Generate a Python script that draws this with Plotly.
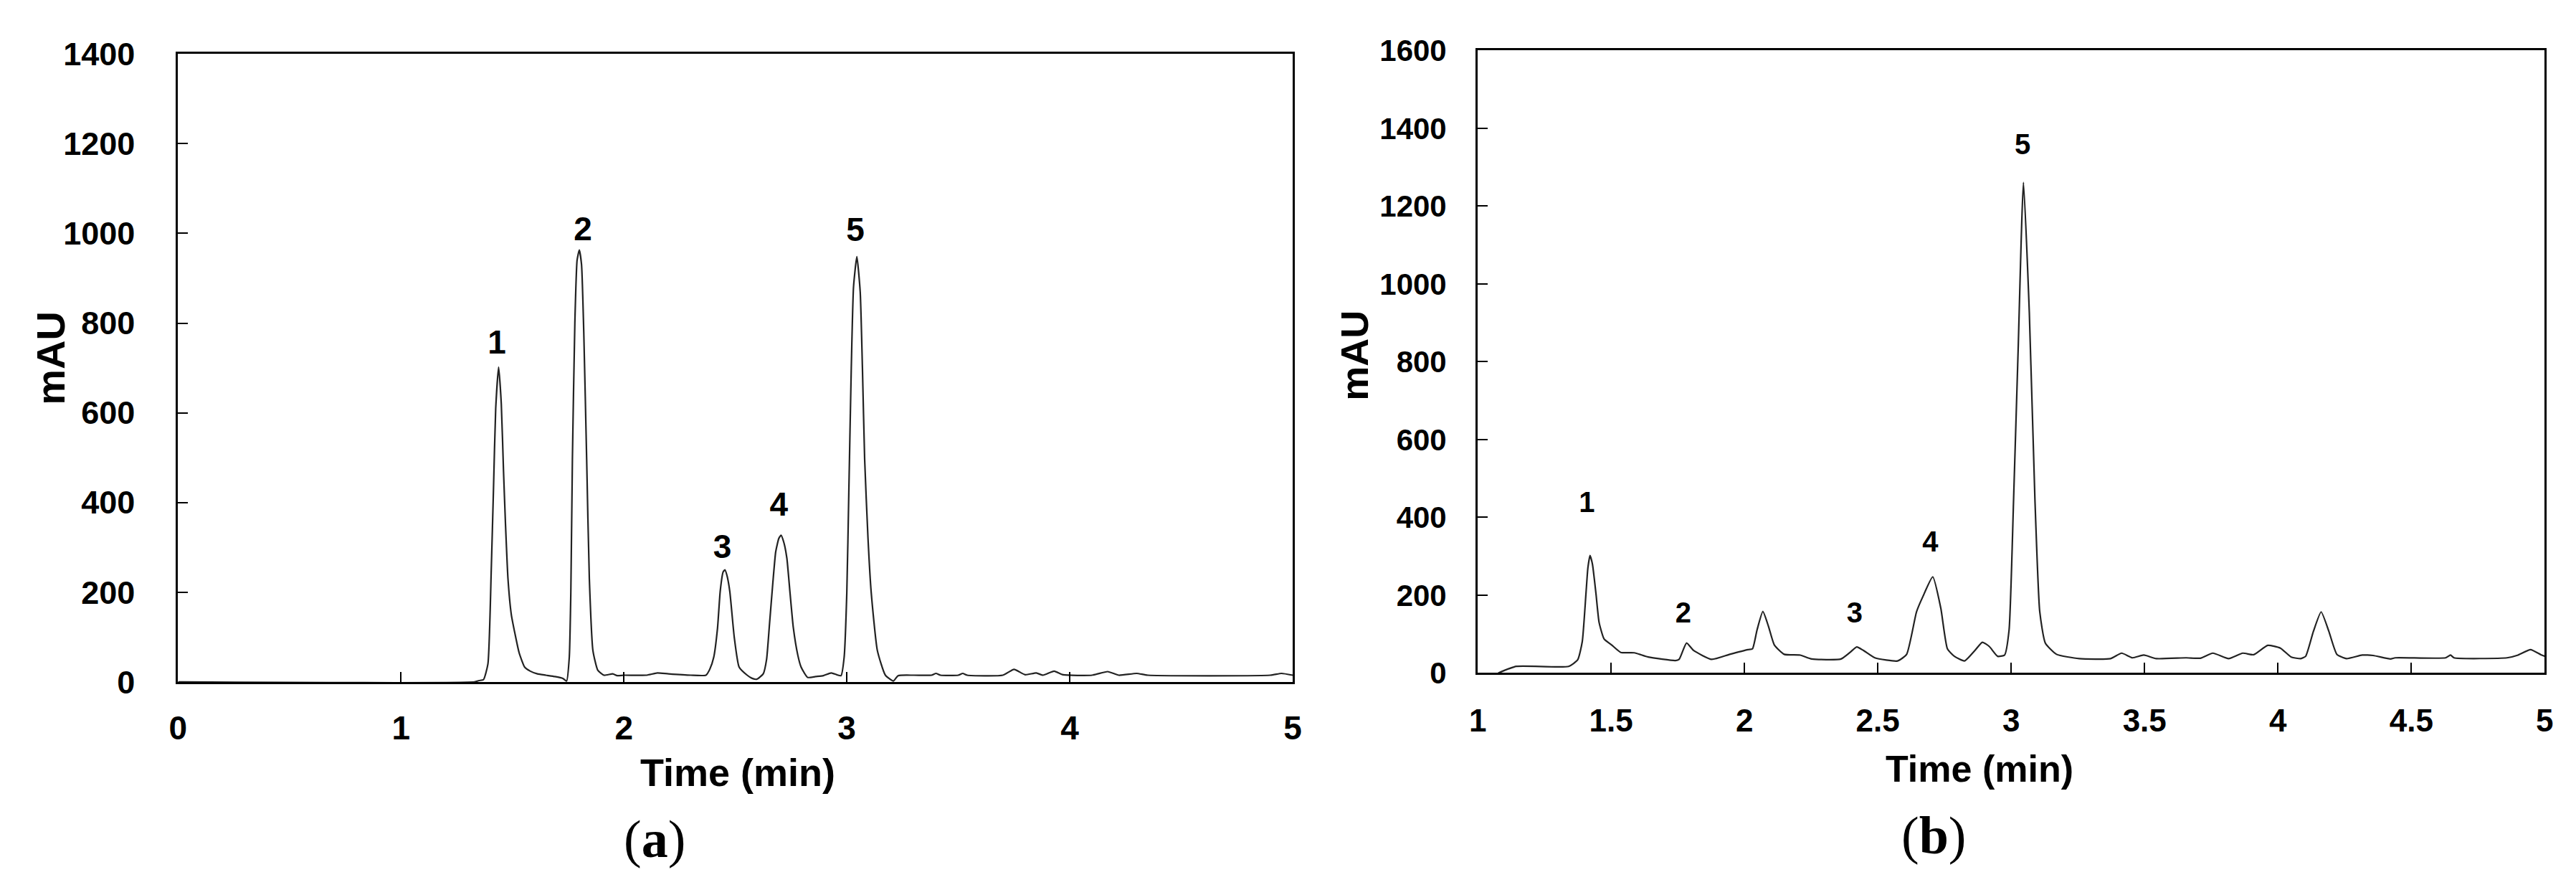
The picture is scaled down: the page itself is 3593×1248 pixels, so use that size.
import plotly.graph_objects as go

# ---------------- data: panel (a) ----------------
time_a = [0, 1.33, 1.35, 1.37, 1.39, 1.405, 1.415, 1.425, 1.438, 1.45, 1.46, 1.469, 1.48, 1.495,
          1.512, 1.53, 1.555, 1.58, 1.612, 1.65, 1.69, 1.726, 1.743, 1.755, 1.762, 1.769, 1.78,
          1.79, 1.80, 1.81, 1.82, 1.833, 1.845, 1.861, 1.883, 1.911, 1.95, 1.97, 2.0, 2.1, 2.15,
          2.2, 2.3, 2.368, 2.385, 2.403, 2.42, 2.432, 2.445, 2.453, 2.462, 2.475, 2.495, 2.517,
          2.553, 2.575, 2.596, 2.625, 2.64, 2.653, 2.668, 2.681, 2.695, 2.705, 2.718, 2.731,
          2.745, 2.76, 2.78, 2.795, 2.824, 2.86, 2.895, 2.93, 2.955, 2.974, 2.988, 3.0, 3.009,
          3.02, 3.03, 3.045, 3.06, 3.07, 3.08, 3.095, 3.109, 3.137, 3.173, 3.209, 3.23, 3.3,
          3.38, 3.4, 3.42, 3.5, 3.52, 3.54, 3.7, 3.75, 3.8, 3.85, 3.88, 3.93, 3.97, 4.1, 4.17,
          4.22, 4.3, 4.35, 4.9, 4.95, 5.0]
mau_a = [0, 0, 3, 5, 40, 250, 430, 610, 702, 620, 470, 350, 230, 150,
         106, 65, 33, 24, 18, 15, 12, 8, 2, 55, 200, 496, 800,
         940, 963, 930, 780, 496, 230, 70, 26, 15, 18, 14, 15, 15, 20,
         18, 15, 15, 28, 55, 120, 202, 245, 250, 238, 202, 100, 33,
         15, 8, 6, 18, 50, 128, 220, 290, 320, 327, 310, 276,
         200, 121, 60, 33, 10, 12, 14, 20, 16, 14, 55, 200, 423,
         700, 880, 948, 870, 700, 496, 320, 202, 70, 15, 2, 14, 15,
         15, 19, 15, 15, 19, 15, 15, 28, 16, 20, 15, 24, 16, 15, 23,
         15, 19, 15, 15, 19, 15]
peak_labels_a = ["1", "2", "3", "4", "5"]
peak_label_time_a = [1.430, 1.816, 2.442, 2.695, 3.038]
peak_label_mau_a = [750, 1003, 294, 389, 1002]

# ---------------- data: panel (b) ----------------
time_b = [1.077, 1.145, 1.341, 1.375, 1.392, 1.406, 1.413, 1.421, 1.430, 1.443, 1.455, 1.474,
          1.502, 1.536, 1.587, 1.639, 1.741, 1.755, 1.783, 1.809, 1.877, 1.945, 2.013, 2.03,
          2.047, 2.069, 2.09, 2.112, 2.149, 2.209, 2.252, 2.362, 2.396, 2.421, 2.446, 2.489,
          2.574, 2.608, 2.645, 2.668, 2.706, 2.736, 2.761, 2.787, 2.825, 2.864, 2.892, 2.918,
          2.949, 2.975, 2.992, 3.009, 3.026, 3.046, 3.068, 3.089, 3.107, 3.128, 3.17, 3.255,
          3.373, 3.414, 3.455, 3.497, 3.544, 3.656, 3.709, 3.756, 3.815, 3.868, 3.909, 3.962,
          4.009, 4.05, 4.086, 4.104, 4.133, 4.162, 4.191, 4.221, 4.257, 4.316, 4.357, 4.422,
          4.44, 4.629, 4.647, 4.66, 4.859, 4.9, 4.947, 4.986, 5.0]
mau_b = [0, 17, 17, 34, 81, 206, 270, 302, 280, 206, 130, 87,
         72, 53, 52, 41, 32, 35, 77, 58, 35, 48, 60, 62,
         110, 158, 120, 72, 48, 46, 36, 36, 53, 67, 58, 39,
         31, 48, 157, 195, 247, 167, 62, 43, 31, 58, 79, 68,
         43, 46, 110, 446, 829, 1261, 926, 446, 158, 77, 48, 37,
         37, 51, 39, 46, 37, 39, 38, 51, 37, 51, 47, 71,
         64, 41, 37, 43, 107, 157, 107, 48, 37, 46, 45, 36,
         39, 39, 46, 39, 39, 46, 60, 47, 43]
peak_labels_b = ["1", "2", "3", "4", "5"]
peak_label_time_b = [1.409, 1.771, 2.413, 2.697, 3.043]
peak_label_mau_b = [432, 149, 149, 331, 1352]

x_ticks_a = [0, 1, 2, 3, 4, 5]
y_ticks_a = [0, 200, 400, 600, 800, 1000, 1200, 1400]
x_ticks_b = [1, 1.5, 2, 2.5, 3, 3.5, 4, 4.5, 5]
y_ticks_b = [0, 200, 400, 600, 800, 1000, 1200, 1400, 1600]

# ---------------- figure ----------------
W, H = 3593, 1248
SANS = "Liberation Sans, Arial, sans-serif"
SERIF = "Liberation Serif, Times New Roman, serif"
LINE = "#222222"

fig = go.Figure()
fig.add_trace(go.Scatter(x=time_a, y=mau_a, mode="lines", xaxis="x", yaxis="y",
                         line=dict(color=LINE, width=2.2, shape="spline", smoothing=0.5),
                         showlegend=False, hoverinfo="skip"))
fig.add_trace(go.Scatter(x=peak_label_time_a, y=peak_label_mau_a, mode="text", text=peak_labels_a,
                         xaxis="x", yaxis="y", textposition="middle center",
                         textfont=dict(family=SANS, size=46, color="black", weight="bold"),
                         showlegend=False, hoverinfo="skip"))
fig.add_trace(go.Scatter(x=time_b, y=mau_b, mode="lines", xaxis="x2", yaxis="y2",
                         line=dict(color=LINE, width=2.2, shape="spline", smoothing=0.5),
                         showlegend=False, hoverinfo="skip"))
fig.add_trace(go.Scatter(x=peak_label_time_b, y=peak_label_mau_b, mode="text", text=peak_labels_b,
                         xaxis="x2", yaxis="y2", textposition="middle center",
                         textfont=dict(family=SANS, size=40, color="black", weight="bold"),
                         showlegend=False, hoverinfo="skip"))

axis_common = dict(showline=True, linecolor="black", linewidth=3, mirror=True,
                   ticks="inside", ticklen=14, tickwidth=2, tickcolor="black",
                   showgrid=False, zeroline=False, fixedrange=True)

fig.update_layout(
    width=W, height=H, autosize=False,
    margin=dict(l=0, r=0, t=0, b=0),
    paper_bgcolor="white", plot_bgcolor="white",
    xaxis=dict(domain=[229 / W, 1795 / W], range=[0, 5], tickvals=x_ticks_a,
               tickfont=dict(family=SANS, size=46, color="black", weight="bold"),
               ticklabelstandoff=22, anchor="y", **axis_common),
    yaxis=dict(domain=[1 - 957 / H, 1 - 44 / H], range=[0, 1400], tickvals=y_ticks_a,
               tickfont=dict(family=SANS, size=45, color="black", weight="bold"),
               ticklabelstandoff=48, anchor="x", **axis_common),
    xaxis2=dict(domain=[2055 / W, 3554 / W], range=[1, 5], tickvals=x_ticks_b,
                tickfont=dict(family=SANS, size=44, color="black", weight="bold"),
                ticklabelstandoff=26, anchor="y2", **axis_common),
    yaxis2=dict(domain=[1 - 944 / H, 1 - 39 / H], range=[0, 1600], tickvals=y_ticks_b,
                tickfont=dict(family=SANS, size=42, color="black", weight="bold"),
                ticklabelstandoff=32, anchor="x2", **axis_common),
)

def ann(text, px, py, size, family=SANS, angle=0, bold=True):
    fig.add_annotation(text=text, x=px / W, y=1 - py / H, xref="paper", yref="paper",
                       xanchor="center", yanchor="middle", showarrow=False, textangle=angle,
                       font=dict(family=family, size=size, color="black",
                                 weight="bold" if bold else "normal"))

ann("Time (min)", 1015, 1088, 54)
ann("mAU", 50, 486, 56, angle=-90)
ann("Time (min)", 2760, 1083, 52)
ann("mAU", 1882, 482, 54, angle=-90)
ann("(<b>a</b>)", 899, 1185, 74, family=SERIF, bold=False)
ann("(<b>b</b>)", 2696, 1180, 74, family=SERIF, bold=False)

fig.write_html("out.html")
